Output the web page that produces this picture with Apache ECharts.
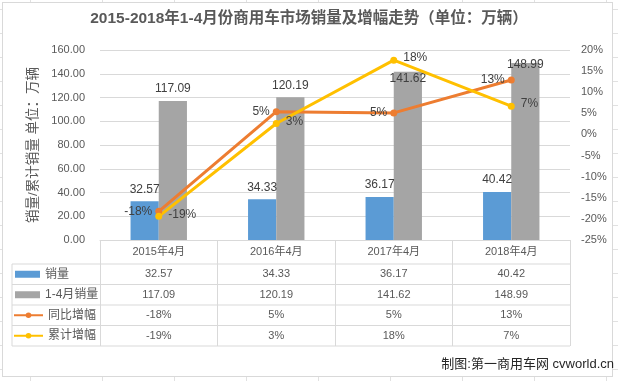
<!DOCTYPE html>
<html>
<head>
<meta charset="utf-8">
<script src="https://cdn.jsdelivr.net/npm/echarts@6/dist/echarts.min.js"></script>
<style>
  html, body { margin: 0; padding: 0; }
  body {
    width: 618px; height: 381px; overflow: hidden; position: relative;
    background-color: #fff;
    background-image: linear-gradient(to right, #e1e1e1 1px, transparent 1px),
                      linear-gradient(to bottom, #e1e1e1 1px, transparent 1px);
    background-size: 72px 24px;
    background-position: 30px 9px;
  }
  #frame { position: absolute; left: 2px; top: 2px; width: 609px; height: 373px;
           background: #fff; border: 1px solid #d9d9d9; }
  #chart { position: absolute; left: 0; top: 0; width: 618px; height: 381px; }
</style>
</head>
<body>
<div id="frame"></div>
<div id="chart"></div>
<script>
// ---- data ----
const categories = ['2015年4月', '2016年4月', '2017年4月', '2018年4月'];
const sales      = [32.57, 34.33, 36.17, 40.42];       // 销量 (万辆)
const salesYTD   = [117.09, 120.19, 141.62, 148.99];   // 1-4月销量 (万辆)
const yoyGrowth  = [-18.2, 5.4, 5.1, 12.9];            // 同比增幅 (%)
const ytdGrowth  = [-19.4, 2.6, 17.6, 6.7];            // 累计增幅 (%)
const leftAxisRange  = [0, 160, 20];
const rightAxisRange = [-25, 20, 5];
const seriesNames = ['销量', '1-4月销量', '同比增幅', '累计增幅'];

// ---- style / layout ----
const FONT = "'Liberation Sans','Noto Sans CJK SC',sans-serif";
const TXT = '#595959';
const LBL = '#404040';
const LINE = '#d9d9d9';
const COLORS = ['#5b9bd5', '#a5a5a5', '#ed7d31', '#ffc000'];
const GRID = { left: 100, right: 48, top: 50, bottom: 141 };
const AXIS_Y = 240, ROW_TOP = 264, ROW_H = 20.5, TABLE_LEFT = 12, TABLE_RIGHT = 570;
// Excel moved the two last 1-4月 labels onto the bar top (styling only)
const ytdLabelPlacement = [['top', 6], ['top', 6], ['insideTop', 1], ['insideTop', -4]];

const fmt2 = v => v.toFixed(2);
const fmtPct = v => Math.round(v) + '%';
const tableRows = [
  { name: seriesNames[0], values: sales, fmt: fmt2 },
  { name: seriesNames[1], values: salesYTD, fmt: fmt2 },
  { name: seriesNames[2], values: yoyGrowth, fmt: fmtPct },
  { name: seriesNames[3], values: ytdGrowth, fmt: fmtPct }
];

const chart = echarts.init(document.getElementById('chart'), null, { renderer: 'canvas' });

const xAxes = [{
  type: 'category', data: categories, gridIndex: 0, position: 'bottom', boundaryGap: true,
  axisLine: { show: true, onZero: false, lineStyle: { color: LINE, width: 1 } },
  axisTick: { show: true, interval: 0, length: ROW_TOP + ROW_H * 4 - AXIS_Y, lineStyle: { color: LINE } },
  axisLabel: { interval: 0, margin: 12, verticalAlign: 'middle', fontSize: 11, color: TXT, fontFamily: FONT },
  splitLine: { show: false }
}];
tableRows.forEach((r, i) => {
  xAxes.push({
    type: 'category', data: r.values.map(r.fmt), gridIndex: 0, position: 'bottom',
    axisLine: { show: false, onZero: false }, axisTick: { show: false }, splitLine: { show: false },
    axisLabel: { interval: 0, margin: ROW_TOP + ROW_H * i + ROW_H / 2 - AXIS_Y, verticalAlign: 'middle',
                 fontSize: 11, color: TXT, fontFamily: FONT }
  });
});

const legends = tableRows.map((r, i) => ({
  data: [r.name], orient: 'horizontal', left: i < 2 ? 15 : 13,
  top: ROW_TOP + ROW_H * i + ROW_H / 2 - 7, padding: 0,
  itemWidth: i < 2 ? 25 : 29, itemHeight: 7, itemGap: 0, selectedMode: false,
  icon: i < 2 ? 'rect' : undefined,
  textStyle: { fontSize: 12, color: TXT, fontFamily: FONT, lineHeight: 14 }
}));

const graphics = [];
for (let k = 0; k <= 4; k++) {
  const y = ROW_TOP + ROW_H * k;
  graphics.push({ type: 'line', silent: true, shape: { x1: TABLE_LEFT, y1: y, x2: TABLE_RIGHT, y2: y },
                  style: { stroke: LINE, lineWidth: 1 } });
}
graphics.push({ type: 'line', silent: true,
  shape: { x1: TABLE_LEFT, y1: ROW_TOP, x2: TABLE_LEFT, y2: ROW_TOP + ROW_H * 4 },
  style: { stroke: LINE, lineWidth: 1 } });

const mkBarLabel = (pos, dist) => ({ show: true, position: pos, distance: dist, formatter: p => fmt2(p.value),
                   fontSize: 12, color: LBL, fontFamily: FONT });

const option = {
  animation: false,
  backgroundColor: 'transparent',
  textStyle: { fontFamily: FONT },
  title: [
    { text: '2015-2018年1-4月份商用车市场销量及增幅走势（单位：万辆）', left: 'center', top: 11, padding: 0,
      textStyle: { fontSize: 15.5, fontWeight: 'bold', color: TXT, fontFamily: FONT } },
    { text: '制图:第一商用车网 cvworld.cn', right: 4, top: 358, padding: 0,
      textStyle: { fontSize: 13, fontWeight: 'normal', color: '#262626', fontFamily: FONT } }
  ],
  grid: Object.assign({ containLabel: false, outerBoundsMode: 'none' }, GRID),
  legend: legends,
  xAxis: xAxes,
  yAxis: [
    { type: 'value', min: leftAxisRange[0], max: leftAxisRange[1], interval: leftAxisRange[2], position: 'left',
      name: '销量/累计销量 单位：万辆', nameLocation: 'middle', nameGap: 57, nameRotate: 90,
      nameTextStyle: { fontSize: 13.5, color: TXT, fontFamily: FONT },
      axisLine: { show: false }, axisTick: { show: false },
      axisLabel: { formatter: v => v.toFixed(2), margin: 15, fontSize: 11, color: TXT, fontFamily: FONT },
      splitLine: { show: true, lineStyle: { color: LINE, width: 1 } } },
    { type: 'value', min: rightAxisRange[0], max: rightAxisRange[1], interval: rightAxisRange[2], position: 'right',
      axisLine: { show: false }, axisTick: { show: false },
      axisLabel: { formatter: '{value}%', margin: 11, fontSize: 11, color: TXT, fontFamily: FONT },
      splitLine: { show: false } }
  ],
  graphic: graphics,
  series: [
    { name: seriesNames[0], type: 'bar', data: sales, xAxisIndex: 0, yAxisIndex: 0,
      barWidth: '24%', barGap: '0%', itemStyle: { color: COLORS[0] }, label: mkBarLabel('top', 6) },
    { name: seriesNames[1], type: 'bar', xAxisIndex: 0, yAxisIndex: 0,
      data: salesYTD.map((v, i) => ({ value: v, label: mkBarLabel(ytdLabelPlacement[i][0], ytdLabelPlacement[i][1]) })),
      barWidth: '24%', barGap: '0%', itemStyle: { color: COLORS[1] }, label: mkBarLabel('top', 6) },
    { name: seriesNames[2], type: 'line', data: yoyGrowth, xAxisIndex: 0, yAxisIndex: 1,
      symbol: 'circle', symbolSize: 7, lineStyle: { color: COLORS[2], width: 3 }, itemStyle: { color: COLORS[2] },
      label: { show: true, position: 'left', distance: 3, formatter: p => fmtPct(p.value), fontSize: 12, color: LBL, fontFamily: FONT } },
    { name: seriesNames[3], type: 'line', data: ytdGrowth, xAxisIndex: 0, yAxisIndex: 1,
      symbol: 'circle', symbolSize: 7, lineStyle: { color: COLORS[3], width: 3 }, itemStyle: { color: COLORS[3] },
      label: { show: true, position: 'right', distance: 6, offset: [0, -2], formatter: p => fmtPct(p.value), fontSize: 12, color: LBL, fontFamily: FONT } }
  ]
};
chart.setOption(option);
</script>
</body>
</html>
